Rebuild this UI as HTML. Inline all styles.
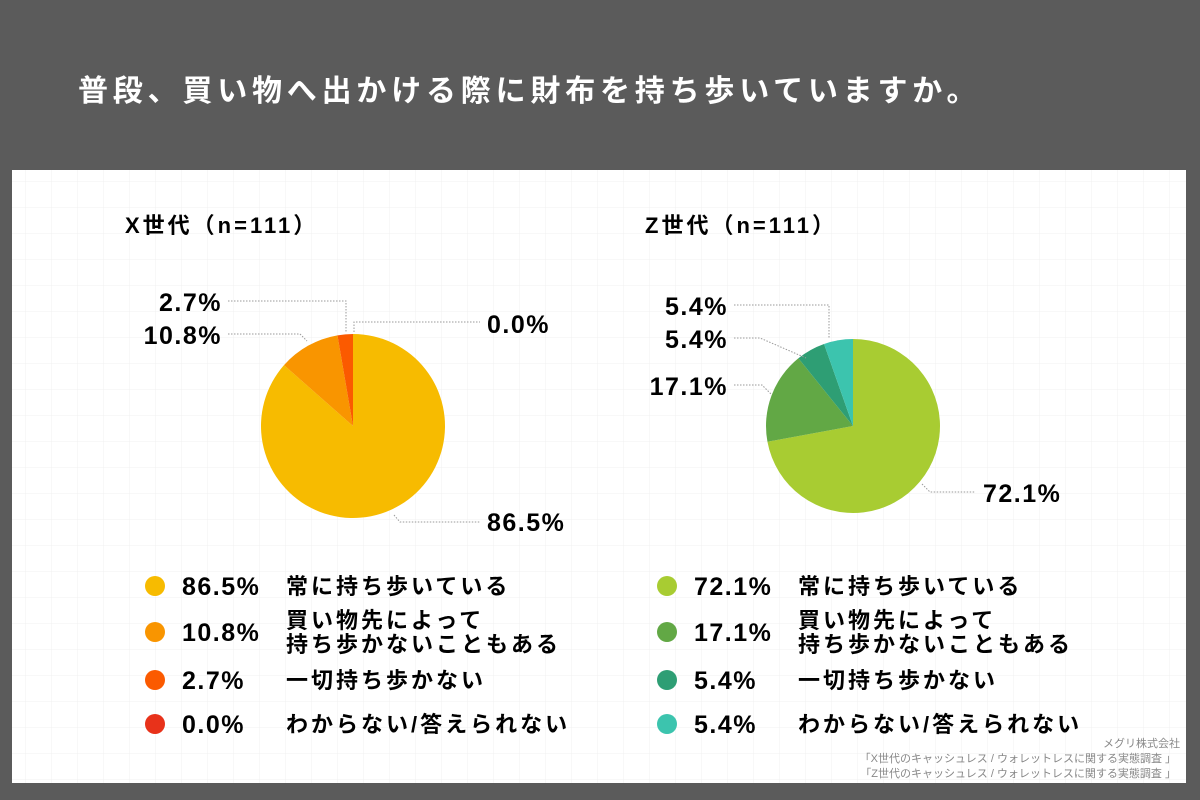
<!DOCTYPE html>
<html><head><meta charset="utf-8">
<style>
body{margin:0;width:1200px;height:800px;background:#5b5b5b;overflow:hidden;font-family:"Liberation Sans","Noto Sans CJK JP",sans-serif}
svg{position:absolute;left:0;top:0}
</style></head>
<body>
<svg width="1200" height="800">
<defs><pattern id="grid" width="26" height="26" patternUnits="userSpaceOnUse"><path d="M26 0V26H0" fill="none" stroke="#f1f1f1" stroke-width="1"/></pattern></defs>
<text x="78" y="101" fill="#fff" font-size="30" font-weight="bold" letter-spacing="4.8">普段、買い物へ出かける際に財布を持ち歩いていますか。</text>
<rect x="12" y="170" width="1174" height="613" fill="#fff"/>
<rect x="12" y="170" width="1174" height="613" fill="url(#grid)"/>
<text x="125" y="233" font-size="22" font-weight="bold" letter-spacing="3">X世代（n=111）</text>
<text x="645" y="233" font-size="22" font-weight="bold" letter-spacing="3">Z世代（n=111）</text>
<g id="pies"></g>
<g id="legend"></g>
<g fill="#888" font-size="11" text-anchor="end">
<text x="1180" y="747">メグリ株式会社</text>
<text x="1176" y="762">「X世代のキャッシュレス / ウォレットレスに関する実態調査 」</text>
<text x="1176" y="777">「Z世代のキャッシュレス / ウォレットレスに関する実態調査 」</text>
</g>
</svg>
<script>
const categories=["常に持ち歩いている","買い物先によって|持ち歩かないこともある","一切持ち歩かない","わからない/答えられない"];
const xValues=[86.5,10.8,2.7,0.0];
const zValues=[72.1,17.1,5.4,5.4];
const xColors=["#f7bb00","#f99500","#fb5a00","#e8321a"];
const zColors=["#a8cc32","#62a845","#2e9e74","#3cc4ae"];
const NS="http://www.w3.org/2000/svg";
function mk(t,a,p){const e=document.createElementNS(NS,t);for(const k in a)e.setAttribute(k,a[k]);p.appendChild(e);return e;}
const pies=document.getElementById('pies'),leg=document.getElementById('legend');
function pt(cx,cy,r,f){const a=f*2*Math.PI;return [cx+r*Math.sin(a),cy-r*Math.cos(a)];}
function pie(cx,cy,r,vals,cols,labels,name){
  const tot=vals.reduce((a,b)=>a+b,0);let acc=0;
  vals.forEach((v,i)=>{
    const f0=acc/tot,f1=(acc+v)/tot;acc+=v;
    if(v<=0)return;
    const [x0,y0]=pt(cx,cy,r,f0),[x1,y1]=pt(cx,cy,r,f1);
    const p=mk('path',{d:`M${cx},${cy}L${x0},${y0}A${r},${r} 0 ${f1-f0>0.5?1:0} 1 ${x1},${y1}Z`,fill:cols[i]},pies);
    
    
  });
  labels.forEach((l,i)=>{
    mk('polyline',{points:l.line,fill:'none',stroke:'#999','stroke-width':1,'stroke-dasharray':'1.5,1.5'},pies);
    const t=mk('text',{x:l.x,y:l.y,'font-size':25,'font-weight':'bold','letter-spacing':1.5,'text-anchor':l.a},pies);
    t.textContent=vals[i].toFixed(1)+'%';
    
    
  });
}
pie(353,426,92,xValues,xColors,[
 {x:487,y:531,a:'start',line:'394,515 400,522 480,522'},
 {x:222,y:344,a:'end',line:'228,334 300,334 307,341'},
 {x:222,y:311,a:'end',line:'228,301 346,301 346,332'},
 {x:487,y:333,a:'start',line:'354,332 354,322 480,322'}]);
pie(853,426,87,zValues,zColors,[
 {x:983,y:502,a:'start',line:'922,484 930,492 975,492'},
 {x:728,y:395,a:'end',line:'734,385 762,385 771,394'},
 {x:728,y:348,a:'end',line:'734,338 760,338 806,358'},
 {x:728,y:315,a:'end',line:'734,305 829,305 829,338'}]);
const rows=[586,632,680,724];
function legend(x0,vals,cols,name){
  vals.forEach((v,i)=>{
    const y=rows[i];
    const c=mk('circle',{cx:x0,cy:y,r:10,fill:cols[i]},leg);
    
    
    const t=mk('text',{x:x0+27,y:y+9,'font-size':25,'font-weight':'bold','letter-spacing':1.5},leg);
    t.textContent=v.toFixed(1)+'%';
    
    
    const parts=categories[i].split('|');
    parts.forEach((s,j)=>{
      const tt=mk('text',{x:x0+131,y:y+8+(parts.length>1?(j*24-12):0),'font-size':22,'font-weight':'bold','letter-spacing':3},leg);
      tt.textContent=s;
      
      
    });
  });
}
legend(155,xValues,xColors,'x-gen');
legend(667,zValues,zColors,'z-gen');
</script>
</body></html>
